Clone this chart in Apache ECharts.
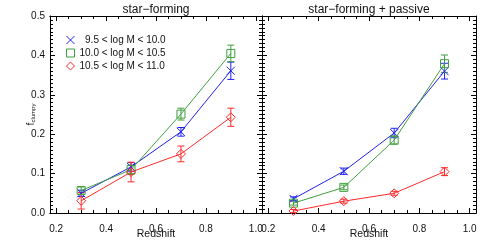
<!DOCTYPE html>
<html><head><meta charset="utf-8">
<script src="https://cdn.jsdelivr.net/npm/echarts@6/dist/echarts.min.js"></script>
<style>html,body{margin:0;padding:0;background:#fff}#c{width:491px;height:247px}</style>
</head><body><div id="c"></div>
<script>
const redshift = [0.3, 0.5, 0.7, 0.9];
const seriesNames = ['  9.5 < log M < 10.0', '10.0 < log M < 10.5', '10.5 < log M < 11.0'];
// star-forming panel
const sfLow  = [0.050, 0.117, 0.206, 0.361];
const sfLowErr = [0.008, 0.011, 0.011, 0.022];
const sfMid  = [0.057, 0.110, 0.251, 0.405];
const sfMidErr = [0.009, 0.012, 0.015, 0.021];
const sfHigh = [0.031, 0.104, 0.150, 0.243];
const sfHighErr = [0.021, 0.025, 0.020, 0.023];
// star-forming + passive panel
const allLow  = [0.036, 0.106, 0.203, 0.360];
const allLowErr = [0.005, 0.008, 0.012, 0.020];
const allMid  = [0.025, 0.065, 0.185, 0.379];
const allMidErr = [0.005, 0.006, 0.010, 0.022];
const allHigh = [0.005, 0.030, 0.050, 0.105];
const allHighErr = [0.004, 0.005, 0.005, 0.010];

const xMajorTicks = [0.2, 0.4, 0.6, 0.8, 1.0];
const xMinorTicks = [0.25, 0.3, 0.35, 0.45, 0.5, 0.55, 0.65, 0.7, 0.75, 0.85, 0.9, 0.95];
const panelTitles = ['star\u2212forming', 'star\u2212forming + passive'];

const colors = ['#2222f0', '#3f9f3f', '#ff2a2a'];
const symbols = ['path://M0,0L10,10M10,0L0,10', 'rect', 'diamond'];
const symbolSizes = [8, 8, 9];

const axisLine = {show: true, onZero: false, lineStyle: {color: '#000', width: 1}};
function xAxis(grid, pos, ticks, len, labels) {
  return {
    type: 'value', gridIndex: grid, position: pos, min: 0.175, max: 1.025,
    axisLine: axisLine,
    splitLine: {show: false},
    axisTick: {show: true, inside: true, length: len, customValues: ticks, lineStyle: {color: '#000'}},
    axisLabel: {show: labels, customValues: ticks, color: '#111', fontSize: 10, fontFamily: 'Liberation Sans',
      margin: 11, formatter: v => v.toFixed(1)},
    name: labels ? 'Redshift' : '', nameLocation: 'middle', nameGap: 16, nameMoveOverlap: false,
    nameTextStyle: {color: '#111', fontSize: 10.5, fontFamily: 'Liberation Sans'}
  };
}
function yAxis(grid, pos, labels, named) {
  return {
    type: 'value', gridIndex: grid, position: pos, min: 0, max: 0.5, interval: 0.1,
    axisLine: axisLine,
    splitLine: {show: false},
    axisTick: {show: true, inside: true, length: 5, lineStyle: {color: '#000'}},
    minorTick: {show: true, splitNumber: 10, length: 3, lineStyle: {color: '#000'}},
    minorSplitLine: {show: false},
    axisLabel: {show: labels, color: '#111', fontSize: 10, fontFamily: 'Liberation Sans', margin: 5,
      formatter: v => v.toFixed(1)},
    name: named ? 'f{s|clumpy}' : '', nameLocation: 'middle', nameGap: 14, nameRotate: 90,
    nameMoveOverlap: false,
    nameTextStyle: {color: '#111', fontSize: 10, fontFamily: 'Liberation Sans',
      rich: {s: {fontSize: 6, verticalAlign: 'bottom', padding: [4, 0, 0, 0], fontFamily: 'Liberation Sans', color: '#111'}}}
  };
}

const xAxes = [], yAxes = [];
for (let g = 0; g < 2; g++) {
  xAxes.push(xAxis(g, 'bottom', xMajorTicks, 5, true));
  xAxes.push(xAxis(g, 'bottom', xMinorTicks, 3, false));
  xAxes.push(xAxis(g, 'top', xMajorTicks, 5, false));
  xAxes.push(xAxis(g, 'top', xMinorTicks, 3, false));
  yAxes.push(yAxis(g, 'left', g === 0, g === 0));
  yAxes.push(yAxis(g, 'right', false, false));
}

const panels = [
  [[sfLow, sfLowErr], [sfMid, sfMidErr], [sfHigh, sfHighErr]],
  [[allLow, allLowErr], [allMid, allMidErr], [allHigh, allHighErr]]
];

const series = [];
panels.forEach((panel, g) => {
  panel.forEach(([vals, errs], i) => {
    series.push({
      type: 'line', name: seriesNames[i], xAxisIndex: g * 4, yAxisIndex: g * 2,
      data: redshift.map((x, k) => [x, vals[k]]),
      symbol: symbols[i], symbolSize: symbolSizes[i], showAllSymbol: true,
      lineStyle: {color: colors[i], width: 1},
      itemStyle: {color: 'none', borderColor: colors[i], borderWidth: 1},
      emphasis: {disabled: true}, animation: false, z: 3
    });
    series.push({
      type: 'custom', name: seriesNames[i], xAxisIndex: g * 4, yAxisIndex: g * 2,
      data: redshift.map((x, k) => [x, vals[k], errs[k]]),
      encode: {x: 0, y: 1},
      renderItem: (params, api) => {
        const x = api.value(0), y = api.value(1), e = api.value(2);
        const lo = api.coord([x, y - e]), hi = api.coord([x, y + e]);
        const w = 3.5;
        const style = {stroke: colors[i], lineWidth: 1};
        return {type: 'group', children: [
          {type: 'line', shape: {x1: lo[0], y1: lo[1], x2: hi[0], y2: hi[1]}, style},
          {type: 'line', shape: {x1: lo[0] - w, y1: lo[1], x2: lo[0] + w, y2: lo[1]}, style},
          {type: 'line', shape: {x1: hi[0] - w, y1: hi[1], x2: hi[0] + w, y2: hi[1]}, style}
        ]};
      },
      animation: false, z: 2
    });
  });
});

const chart = echarts.init(document.getElementById('c'), null, {renderer: 'canvas'});
chart.setOption({
  backgroundColor: '#fff',
  animation: false,
  title: [
    {text: panelTitles[0], left: 156, top: 3.5, padding: 0, textAlign: 'center',
      textStyle: {fontSize: 12, fontWeight: 'normal', color: '#111', fontFamily: 'Liberation Sans'}},
    {text: panelTitles[1], left: 369, top: 3.5, padding: 0, textAlign: 'center',
      textStyle: {fontSize: 12, fontWeight: 'normal', color: '#111', fontFamily: 'Liberation Sans'}}
  ],
  grid: [
    {left: 50, top: 16, width: 212, height: 197},
    {left: 262, top: 16, width: 214, height: 197}
  ],
  xAxis: xAxes,
  yAxis: yAxes,
  legend: {
    left: 61, top: 30, orient: 'vertical', itemWidth: 8, itemHeight: 8, itemGap: 3,
    selectedMode: false,
    textStyle: {fontSize: 10, color: '#111', fontFamily: 'Liberation Sans', padding: [0, 0, 0, 0]},
    data: seriesNames.map((n, i) => ({
      name: n, icon: symbols[i],
      itemStyle: {color: 'rgba(255,255,255,0)', borderColor: colors[i], borderWidth: 1}
    }))
  },
  series: series
});
</script>
</body></html>
